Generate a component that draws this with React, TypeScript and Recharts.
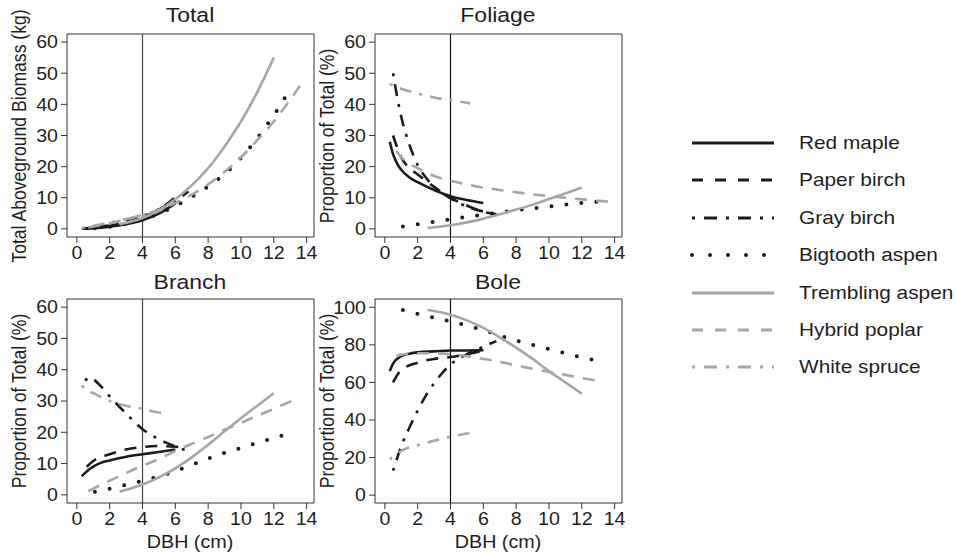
import React from 'react';
import { LineChart, Line, XAxis, YAxis, ReferenceLine, ReferenceArea } from 'recharts';

type Pt = [number, number];

// ---------- tick labels ----------
const xTicks = [0, 2, 4, 6, 8, 10, 12, 14];
const pctTicks = [0, 10, 20, 30, 40, 50, 60];
const boleTicks = [0, 20, 40, 60, 80, 100];

const speciesNames = [
  'Red maple',
  'Paper birch',
  'Gray birch',
  'Bigtooth aspen',
  'Trembling aspen',
  'Hybrid poplar',
  'White spruce',
];

// ---------- Total aboveground biomass (kg) ----------
const totalRedMaple: Pt[] = [[0.3, 0.05], [1, 0.2], [2, 0.7], [3, 1.5], [4, 2.8], [5, 4.9], [6, 8.2]];
const totalPaperBirch: Pt[] = [[0.5, 0.1], [1, 0.3], [2, 1.0], [3, 2.0], [4, 3.6], [5, 6.2], [6, 10.2]];
const totalGrayBirch: Pt[] = [[0.5, 0.1], [1, 0.4], [2, 1.2], [3, 2.4], [4, 4.0], [5, 6.3], [6, 9.0], [6.8, 12]];
const totalBigtooth: Pt[] = [[1.1, 0.2], [2, 0.7], [3, 1.6], [4, 3.0], [5, 4.9], [6, 7.4], [7, 10.3], [8, 13.6], [9, 17.6], [10, 22.8], [11, 29.2], [12, 36.5], [12.9, 44]];
const totalTrembling: Pt[] = [[2.6, 1.5], [4, 3.5], [5, 6], [6, 9.5], [7, 14], [8, 19.5], [9, 26.5], [10, 34.5], [11, 44], [12, 55]];
const totalHybrid: Pt[] = [[0.7, 0.5], [2, 1.8], [3, 3.0], [4, 4.5], [5, 6.2], [6, 8.3], [7, 11], [8, 14.3], [9, 18.3], [10, 23], [11, 28.5], [12, 34.5], [13, 41.5], [13.6, 46]];
const totalWhiteSpruce: Pt[] = [[0.3, 0.3], [1, 1.0], [2, 2.0], [3, 3.2], [4, 4.4], [5, 5.8], [5.2, 6.1]];

// ---------- Foliage (% of total) ----------
const folRedMaple: Pt[] = [[0.3, 28], [0.5, 24], [0.8, 20.5], [1, 19], [1.5, 16.5], [2, 15], [3, 12.5], [4, 10.5], [5, 9.3], [6, 8.3]];
const folPaperBirch: Pt[] = [[0.5, 30], [1, 23], [1.5, 19.5], [2, 17.5], [3, 13.5], [4, 10], [5, 7.5], [6, 5.5], [6.8, 4.7]];
const folGrayBirch: Pt[] = [[0.5, 50], [0.8, 41], [1, 36], [1.5, 27], [2, 20.5], [2.5, 16.5], [3, 13.5], [3.5, 11.5], [4, 9.8], [5, 7.2], [6, 5.6], [6.8, 4.8]];
const folBigtooth: Pt[] = [[1.1, 0.8], [2, 1.5], [3, 2.3], [4, 3.1], [5, 3.9], [6, 4.6], [7, 5.3], [8, 6], [9, 6.6], [10, 7.2], [11, 7.8], [12, 8.3], [13.1, 8.8]];
const folTrembling: Pt[] = [[2.6, 0.3], [4, 1.2], [5, 2.1], [6, 3.3], [7, 4.7], [8, 6.2], [9, 7.8], [10, 9.6], [11, 11.4], [12, 13.3]];
const folHybrid: Pt[] = [[0.7, 25], [1, 23], [1.5, 21], [2, 19.5], [3, 17], [4, 15.5], [5, 14.3], [6, 13.3], [7, 12.5], [8, 11.8], [9, 11.1], [10, 10.5], [11, 10], [12, 9.5], [13, 9.0], [13.6, 8.8]];
const folWhiteSpruce: Pt[] = [[0.3, 46.5], [1, 45], [2, 43.5], [3, 42.2], [4, 41.3], [5, 40.5], [5.2, 40.3]];

// ---------- Branch (% of total) ----------
const brRedMaple: Pt[] = [[0.3, 6], [0.6, 7.5], [1, 9], [1.5, 10.3], [2, 11], [3, 12.2], [4, 13], [5, 13.7], [6, 14.5]];
const brPaperBirch: Pt[] = [[0.6, 9], [1, 10.8], [2, 13], [3, 14.5], [4, 15.3], [5, 15.6], [6, 15.4], [6.5, 15.2]];
const brGrayBirch: Pt[] = [[0.5, 36.5], [0.8, 37.5], [1, 37], [1.5, 34.5], [2, 31.5], [3, 26], [4, 21], [5, 17.8], [6, 15.5], [6.5, 14.5], [7, 13.5]];
const brBigtooth: Pt[] = [[1.1, 1], [2, 2], [3, 3.2], [4, 4.5], [5, 5.9], [6, 7.6], [7, 9.6], [8, 11.6], [9, 13.4], [10, 15], [11, 16.6], [12, 18.2], [12.7, 19.3]];
const brTrembling: Pt[] = [[2.6, 1], [3, 1.6], [4, 3.3], [5, 5.6], [6, 8.5], [7, 12], [8, 16], [9, 20.3], [10, 24.5], [11, 28.5], [12, 32.5]];
const brHybrid: Pt[] = [[0.7, 1.2], [1, 2], [2, 4.5], [3, 7], [4, 9.3], [5, 11.5], [6, 14], [7, 16.3], [8, 18.5], [9, 20.8], [10, 23], [11, 25.3], [12, 27.5], [13, 29.8], [13.5, 30.8]];
const brWhiteSpruce: Pt[] = [[0.3, 35], [0.6, 33.5], [1, 32.5], [2, 30], [3, 28.5], [4, 27.5], [5, 26.3], [5.2, 26.2]];

// ---------- Bole (% of total) ----------
const boRedMaple: Pt[] = [[0.3, 66], [0.5, 70], [1, 74], [1.5, 75.3], [2, 76], [3, 76.5], [4, 77], [5, 77], [6, 77.2]];
const boPaperBirch: Pt[] = [[0.5, 60], [0.8, 64.5], [1, 66.5], [2, 70.5], [3, 72.5], [4, 73.5], [5, 75], [6, 77]];
const boGrayBirch: Pt[] = [[0.5, 13], [0.8, 21], [1, 26], [1.5, 36], [2, 45], [2.5, 53], [3, 59.5], [3.5, 65], [4, 69.5], [5, 75], [6, 79], [6.8, 82]];
const boBigtooth: Pt[] = [[1.1, 98.5], [2, 96.5], [3, 94.5], [4, 92.5], [5, 90.3], [6, 87.8], [7, 85], [8, 82.3], [9, 80], [10, 77.7], [11, 75.5], [12, 73.3], [12.8, 71.8]];
const boTrembling: Pt[] = [[2.6, 98.5], [3, 98], [4, 96], [5, 93], [6, 89], [7, 84], [8, 78.5], [9, 72.5], [10, 66], [11, 60], [12, 54]];
const boHybrid: Pt[] = [[0.7, 74], [1, 74.8], [2, 75.5], [3, 75.5], [4, 75], [5, 74], [6, 72.5], [7, 71], [8, 69], [9, 67.3], [10, 65.5], [11, 64], [12, 62.3], [13.2, 60.5]];
const boWhiteSpruce: Pt[] = [[0.3, 19], [0.6, 21], [1, 23.5], [2, 26.5], [3, 29], [4, 31], [5, 32.8], [5.2, 33]];

const totalSeries = [totalRedMaple, totalPaperBirch, totalGrayBirch, totalBigtooth, totalTrembling, totalHybrid, totalWhiteSpruce];
const foliageSeries = [folRedMaple, folPaperBirch, folGrayBirch, folBigtooth, folTrembling, folHybrid, folWhiteSpruce];
const branchSeries = [brRedMaple, brPaperBirch, brGrayBirch, brBigtooth, brTrembling, brHybrid, brWhiteSpruce];
const boleSeries = [boRedMaple, boPaperBirch, boGrayBirch, boBigtooth, boTrembling, boHybrid, boWhiteSpruce];

// ---------- styles ----------
const BLACK = '#1c1c1c';
const GRAY = '#a6a6a6';
const TEXT = '#1e1e1e';
const FONT = '"Liberation Sans", Arial, Helvetica, sans-serif';
const STRETCH = 1.12;

type LineStyle = { stroke: string; dash?: string; legendDash?: string; width: number; cap: 'butt' | 'round' };
const lineStyles: LineStyle[] = [
  { stroke: BLACK, width: 2.6, cap: 'butt' },
  { stroke: BLACK, dash: '12 9', legendDash: '11 12', width: 2.6, cap: 'butt' },
  { stroke: BLACK, dash: '3 8 12 8', legendDash: '3 9 13 9', width: 2.6, cap: 'butt' },
  { stroke: BLACK, dash: '0 15', legendDash: '0 18', width: 4, cap: 'round' },
  { stroke: GRAY, width: 2.6, cap: 'butt' },
  { stroke: GRAY, dash: '12 9', legendDash: '11 12', width: 2.6, cap: 'butt' },
  { stroke: GRAY, dash: '3 8 12 8', legendDash: '3 9 13 9', width: 2.6, cap: 'butt' },
];

const X_DOMAIN: [number, number] = [-0.6, 14.45];
const TICK_FONT = 17.5;

function XTick(props: any) {
  const { x, y, payload } = props;
  return (
    <text
      transform={`translate(${x},${y}) scale(${STRETCH},1)`}
      textAnchor="middle"
      dy="0.75em"
      fill={TEXT}
      fontSize={TICK_FONT}
      fontFamily={FONT}
    >
      {payload.value}
    </text>
  );
}

function YTick(props: any) {
  const { x, y, payload } = props;
  return (
    <text
      transform={`translate(${x},${y}) scale(${STRETCH},1)`}
      textAnchor="end"
      dy="0.36em"
      fill={TEXT}
      fontSize={TICK_FONT}
      fontFamily={FONT}
    >
      {payload.value}
    </text>
  );
}

type PanelProps = {
  left: number;
  top: number;
  height: number;
  yDomain: [number, number];
  yTicks: number[];
  series: Pt[][];
  refColor: string;
};

function Panel({ left, top, height, yDomain, yTicks, series, refColor }: PanelProps) {
  return (
    <div style={{ position: 'absolute', left, top }}>
      <LineChart width={330} height={height} margin={{ top: 34, right: 16, left: 0, bottom: 3 }}>
        <XAxis
          type="number"
          dataKey="x"
          domain={X_DOMAIN}
          ticks={xTicks}
          interval={0}
          allowDataOverflow
          axisLine={false}
          tickLine={{ stroke: '#333', strokeWidth: 1 }}
          tickSize={6}
          tickMargin={3}
          tick={<XTick />}
          height={30}
        />
        <YAxis
          type="number"
          dataKey="y"
          domain={yDomain}
          ticks={yTicks}
          interval={0}
          allowDataOverflow
          axisLine={false}
          tickLine={{ stroke: '#333', strokeWidth: 1 }}
          tickSize={6}
          tickMargin={3}
          tick={<YTick />}
          width={67}
        />
        <ReferenceArea
          x1={X_DOMAIN[0]}
          x2={X_DOMAIN[1]}
          y1={yDomain[0]}
          y2={yDomain[1]}
          fill="none"
          fillOpacity={0}
          stroke="#333"
          strokeWidth={1}
          ifOverflow="visible"
        />
        <ReferenceLine x={4} stroke={refColor} strokeWidth={1.2} ifOverflow="visible" />
        {series.map((pts, i) => {
          const st = lineStyles[i];
          return (
            <Line
              key={speciesNames[i]}
              data={pts.map(([x, y]) => ({ x, y }))}
              dataKey="y"
              type="monotone"
              stroke={st.stroke}
              strokeWidth={st.width}
              strokeDasharray={st.dash}
              strokeLinecap={st.cap}
              dot={false}
              activeDot={false}
              isAnimationActive={false}
            />
          );
        })}
      </LineChart>
    </div>
  );
}

const textStyle: React.CSSProperties = { position: 'absolute', fontFamily: FONT, color: TEXT, whiteSpace: 'nowrap' };

function Title({ x, y, text }: { x: number; y: number; text: string }) {
  return (
    <div style={{ ...textStyle, left: x, top: y, fontSize: 20.5, transform: `translate(-50%, -50%) scaleX(${STRETCH})` }}>{text}</div>
  );
}

function YLabel({ x, y, text }: { x: number; y: number; text: string }) {
  return (
    <div style={{ ...textStyle, left: x, top: y, fontSize: 17.6, transform: `translate(-50%, -50%) scaleX(${STRETCH}) rotate(-90deg)` }}>{text}</div>
  );
}

function XLabel({ x, y, text }: { x: number; y: number; text: string }) {
  return (
    <div style={{ ...textStyle, left: x, top: y, fontSize: 17.6, transform: `translate(-50%, -50%) scaleX(${STRETCH})` }}>{text}</div>
  );
}

function Legend() {
  return (
    <>
      {speciesNames.map((name, i) => {
        const st = lineStyles[i];
        const cy = 143 + i * 37.4;
        return (
          <React.Fragment key={name}>
            <svg style={{ position: 'absolute', left: 690, top: cy - 6 }} width={90} height={12}>
              <line
                x1={2}
                x2={84}
                y1={6}
                y2={6}
                stroke={st.stroke}
                strokeWidth={st.cap === 'round' ? 4 : 3}
                strokeDasharray={st.legendDash}
                strokeLinecap={st.cap}
              />
            </svg>
            <div
              style={{
                ...textStyle,
                left: 799,
                top: cy,
                fontSize: 18.6,
                transformOrigin: 'left center',
                transform: `translateY(-50%) scaleX(${STRETCH})`,
              }}
            >
              {name}
            </div>
          </React.Fragment>
        );
      })}
    </>
  );
}

export default function App() {
  return (
    <div style={{ position: 'absolute', left: 0, top: 0, width: 956, height: 556, background: '#fff', overflow: 'hidden' }}>
      <Panel left={0} top={0} height={270} yDomain={[-2.6, 62.6]} yTicks={pctTicks} series={totalSeries} refColor="#444" />
      <Panel left={308} top={0} height={270} yDomain={[-2.6, 62.6]} yTicks={pctTicks} series={foliageSeries} refColor="#111" />
      <Panel left={0} top={265} height={271} yDomain={[-2.6, 62.6]} yTicks={pctTicks} series={branchSeries} refColor="#444" />
      <Panel left={308} top={265} height={271} yDomain={[-4.2, 104.4]} yTicks={boleTicks} series={boleSeries} refColor="#111" />

      <Title x={190} y={15} text="Total" />
      <Title x={498} y={15} text="Foliage" />
      <Title x={190} y={282} text="Branch" />
      <Title x={498} y={282} text="Bole" />

      <YLabel x={20} y={136} text="Total Aboveground Biomass (kg)" />
      <YLabel x={328} y={136} text="Proportion of Total (%)" />
      <YLabel x={20} y={401} text="Proportion of Total (%)" />
      <YLabel x={328} y={401} text="Proportion of Total (%)" />

      <XLabel x={190} y={542} text="DBH (cm)" />
      <XLabel x={498} y={542} text="DBH (cm)" />

      <Legend />
    </div>
  );
}
